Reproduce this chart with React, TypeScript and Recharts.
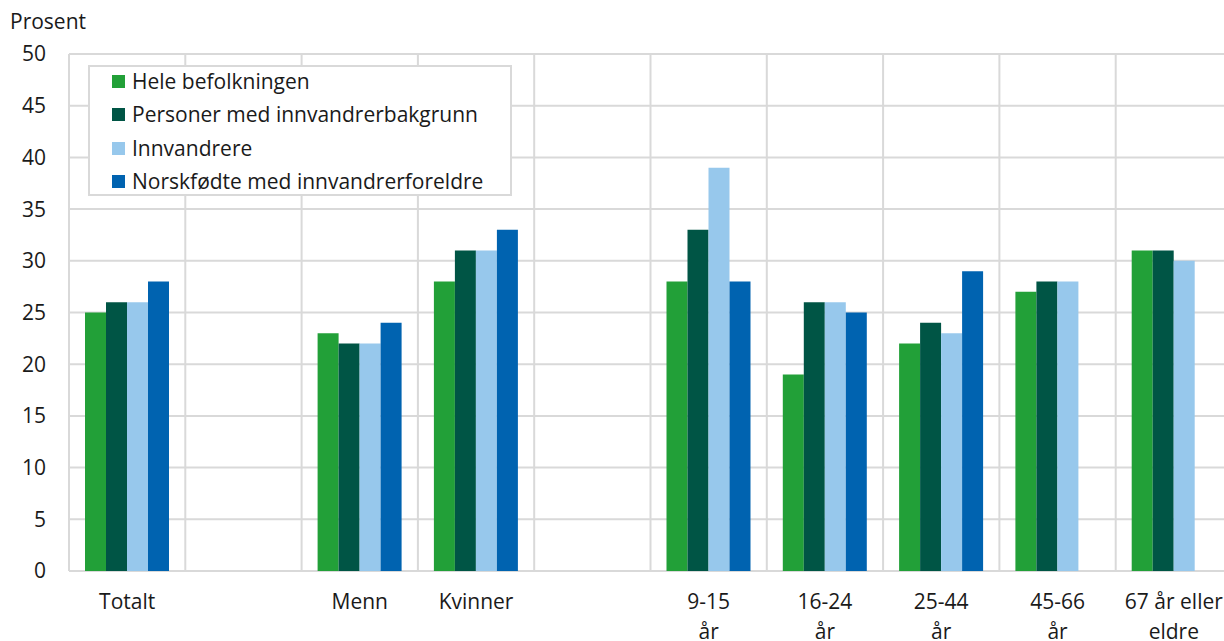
import React from "react";
import { BarChart, Bar, XAxis, YAxis, CartesianGrid, Legend } from "recharts";

const tickLabels: string[][] = [
  ["Totalt"],
  [],
  ["Menn"],
  ["Kvinner"],
  [],
  ["9-15", "år"],
  ["16-24", "år"],
  ["25-44", "år"],
  ["45-66", "år"],
  ["67 år eller", "eldre"],
];

const heleBefolkningen: (number | null)[] = [25, null, 23, 28, null, 28, 19, 22, 27, 31];
const innvandrerbakgrunn: (number | null)[] = [26, null, 22, 31, null, 33, 26, 24, 28, 31];
const innvandrere: (number | null)[] = [26, null, 22, 31, null, 39, 26, 23, 28, 30];
const norskfodte: (number | null)[] = [28, null, 24, 33, null, 28, 25, 29, null, null];

const yTicks = [0, 5, 10, 15, 20, 25, 30, 35, 40, 45, 50];

const seriesNames = [
  "Hele befolkningen",
  "Personer med innvandrerbakgrunn",
  "Innvandrere",
  "Norskfødte med innvandrerforeldre",
];
const colors = ["#22a038", "#005545", "#97c8ec", "#0063b0"];

const data = tickLabels.map((lines, i) => ({
  key: "c" + i,
  lines,
  s0: heleBefolkningen[i],
  s1: innvandrerbakgrunn[i],
  s2: innvandrere[i],
  s3: norskfodte[i],
}));

const FONT = "'Open Sans', sans-serif";
const TEXT = "#1a1a1a";
const FS = 21;

const XTick = (props: any) => {
  const { x, y, index } = props;
  const lines = tickLabels[index] || [];
  return (
    <text x={x} y={y} textAnchor="middle" fill={TEXT} fontSize={FS} fontFamily={FONT}>
      {lines.map((l, i) => (
        <tspan key={i} x={x} dy={i === 0 ? 38 : 30}>
          {l}
        </tspan>
      ))}
    </text>
  );
};

const LegendBox = (props: any) => {
  const payload = [...(props.payload || [])].sort(
    (a: any, b: any) => seriesNames.indexOf(a.value) - seriesNames.indexOf(b.value)
  );
  return (
    <div
      style={{
        position: "relative",
        width: 424,
        height: 131,
        background: "#fff",
        border: "2px solid #d9d9d9",
        boxSizing: "border-box",
        fontFamily: FONT,
        fontSize: FS,
        color: TEXT,
      }}
    >
      {payload.map((p: any, i: number) => (
        <div
          key={i}
          style={{
            position: "absolute",
            left: 22,
            top: -2 + i * 33.3,
            height: 33,
            display: "flex",
            alignItems: "center",
            whiteSpace: "nowrap",
          }}
        >
          <span style={{ display: "inline-block", width: 13, height: 13, background: p.color, marginRight: 7 }} />
          <span style={{ lineHeight: "21px" }}>{p.value}</span>
        </div>
      ))}
    </div>
  );
};

export default function App() {
  return (
    <div style={{ position: "fixed", left: 0, top: 0, width: 1224, height: 641, overflow: "hidden", background: "#fff" }}>
      <div style={{ position: "absolute", left: 10, top: 7, fontFamily: FONT, fontSize: FS, color: TEXT, lineHeight: "29px" }}>
        Prosent
      </div>
      <BarChart
        width={1240}
        height={641}
        data={data}
        margin={{ top: 54, right: 8, bottom: 10, left: 0 }}
        barGap={0}
        barCategoryGap={16}
      >
        <CartesianGrid
          stroke="#d9d9d9"
          strokeWidth={2}
          verticalCoordinatesGenerator={({ offset }: any) =>
            tickLabels.map((_, i) => offset.left + (i * offset.width) / tickLabels.length).concat([offset.left + offset.width])
          }
        />
        <XAxis
          dataKey="key"
          height={60}
          axisLine={false}
          tickLine={false}
          tickSize={0}
          tickMargin={0}
          interval={0}
          tick={<XTick />}
        />
        <YAxis
          width={69}
          domain={[0, 50]}
          ticks={yTicks}
          axisLine={false}
          tickLine={false}
          tickSize={0}
          tickMargin={23}
          tick={{ fill: TEXT, fontSize: FS, fontFamily: FONT }}
        />
        <Legend
          layout="vertical"
          align="center"
          verticalAlign="middle"
          itemSorter={null as any}
          wrapperStyle={{ left: 88, top: 65, width: 424 }}
          content={<LegendBox />}
        />
        <Bar dataKey="s0" name={seriesNames[0]} fill={colors[0]} isAnimationActive={false} />
        <Bar dataKey="s1" name={seriesNames[1]} fill={colors[1]} isAnimationActive={false} />
        <Bar dataKey="s2" name={seriesNames[2]} fill={colors[2]} isAnimationActive={false} />
        <Bar dataKey="s3" name={seriesNames[3]} fill={colors[3]} isAnimationActive={false} />
      </BarChart>
    </div>
  );
}
